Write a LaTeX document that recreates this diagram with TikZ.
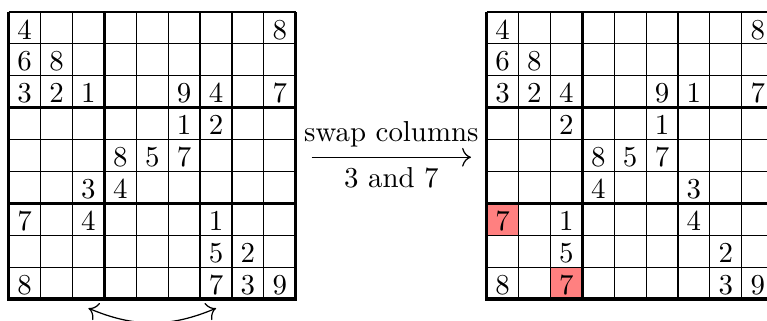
\documentclass[tikz,border=0pt]{standalone}
\usetikzlibrary{arrows.meta}
\begin{document}
\begin{tikzpicture}[x=11.6pt,y=11.6pt,
  digit/.style={anchor=base,inner sep=0pt,font=\fontsize{10.5}{12}\selectfont},
  thingrid/.style={line width=0.4pt},
  thickgrid/.style={line width=1pt},
  bottomrule/.style={line width=1.8pt},
  hilite/.style={fill=red!50,draw=none},
  tip/.style={-{To[scale=1.25]}, line width=0.45pt},
  dtip/.style={{To[scale=1.25]}-{To[scale=1.25]}, line width=0.45pt}]
\useasboundingbox (0,0) rectangle (24.044,10.063);
\clip (0,0) rectangle (24.044,10.063);

% left grid
\begin{scope}[shift={(0.2727,0.6897)}]
  \foreach \i in {1,2,4,5,7,8} {
    \draw[thingrid] (\i,0) -- (\i,9);
    \draw[thingrid] (0,\i) -- (9,\i);
  }
  \foreach \i in {0,3,6,9} {
    \draw[thickgrid] (\i,0) -- (\i,9);
    \draw[thickgrid] (0,\i) -- (9,\i);
  }
  \draw[bottomrule] (-0.04,0) -- (9.04,0);
  \foreach \r/\c/\d in {1/1/4,1/9/8,2/1/6,2/2/8,3/1/3,3/2/2,3/3/1,3/6/9,3/7/4,3/9/7,
      4/6/1,4/7/2,5/4/8,5/5/5,5/6/7,6/3/3,6/4/4,7/1/7,7/3/4,7/7/1,8/7/5,8/8/2,
      9/1/8,9/7/7,9/8/3,9/9/9}
    \node[digit] (L\r\c) at (\c-0.5,9-\r+0.15) {\d};
\end{scope}

% right grid
\begin{scope}[shift={(15.254,0.6897)}]
  \path[hilite] (0,2) rectangle (1,3);
  \path[hilite] (2,0) rectangle (3,1);
  \foreach \i in {1,2,4,5,7,8} {
    \draw[thingrid] (\i,0) -- (\i,9);
    \draw[thingrid] (0,\i) -- (9,\i);
  }
  \foreach \i in {0,3,6,9} {
    \draw[thickgrid] (\i,0) -- (\i,9);
    \draw[thickgrid] (0,\i) -- (9,\i);
  }
  \draw[bottomrule] (-0.04,0) -- (9.04,0);
  \foreach \r/\c/\d in {1/1/4,1/9/8,2/1/6,2/2/8,3/1/3,3/2/2,3/3/4,3/6/9,3/7/1,3/9/7,
      4/3/2,4/6/1,5/4/8,5/5/5,5/6/7,6/4/4,6/7/3,7/1/7,7/3/1,7/7/4,8/3/5,8/8/2,
      9/1/8,9/3/7,9/8/3,9/9/9}
    \node[digit] (R\r\c) at (\c-0.5,9-\r+0.15) {\d};
\end{scope}

% transformation arrow
\coordinate (arrS) at (9.771,5.132);
\coordinate (arrE) at (14.765,5.132);
\draw[tip] (arrS) -- node[above,font=\fontsize{10.5}{12}\selectfont] (lblA) {swap columns}
  node[below,font=\fontsize{10.5}{12}\selectfont] (lblB) {3 and 7} (arrE);

% swap indicator
\coordinate (col3) at (2.7727,0.40);
\coordinate (col7) at (6.7727,0.40);
\draw[dtip] (col3) to[bend right=23] (col7);
\end{tikzpicture}
\end{document}
